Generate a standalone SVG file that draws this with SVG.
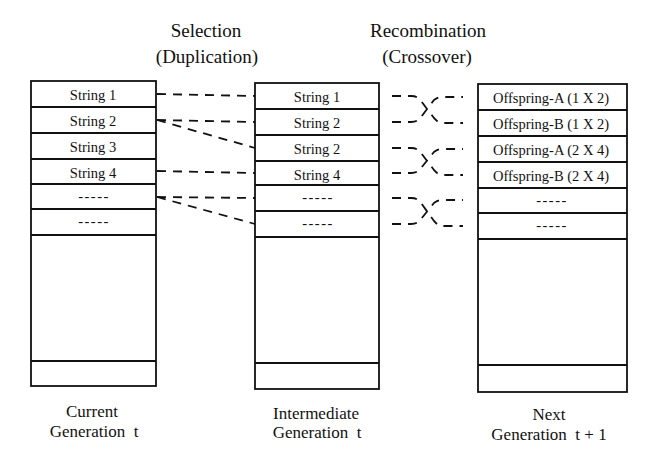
<svg xmlns="http://www.w3.org/2000/svg" width="645" height="462" viewBox="0 0 645 462">
<style>
.box{fill:#fff;stroke:#111;stroke-width:1.8}
.ln{stroke:#111;stroke-width:1.8;fill:none}
.dash{stroke:#111;stroke-width:1.8;fill:none;stroke-dasharray:9 7}
.t{font-family:"Liberation Serif","Times New Roman",serif;font-size:14.5px;fill:#111;text-anchor:middle}
.d{font-family:"Liberation Serif","Times New Roman",serif;font-size:14.5px;fill:#111;text-anchor:middle;letter-spacing:1.5px}
.h{font-family:"Liberation Serif","Times New Roman",serif;font-size:19px;fill:#111;text-anchor:middle}
.b{font-family:"Liberation Serif","Times New Roman",serif;font-size:17px;fill:#111;text-anchor:middle}
</style>
<rect width="645" height="462" fill="#fff"/>
<g id="title-selection">
<text class="h" x="206" y="37">Selection</text>
<text class="h" x="207" y="63">(Duplication)</text>
</g>
<g id="title-recombination">
<text class="h" x="428" y="37">Recombination</text>
<text class="h" x="427" y="63">(Crossover)</text>
</g>
<g id="current-generation">
<rect class="box" x="31" y="81" width="125" height="305"/>
<path class="ln" d="M31,107H156M31,133H156M31,159H156M31,184H156M31,209H156M31,235H156M31,361H156"/>
<text class="t" x="93" y="99.5">String 1</text>
<text class="t" x="93" y="125.5">String 2</text>
<text class="t" x="93" y="151.5">String 3</text>
<text class="t" x="93" y="177.5">String 4</text>
<text class="d" x="94" y="200.5">-----</text>
<text class="d" x="94" y="226">-----</text>
<text class="b" x="92" y="417">Current</text>
<text class="b" x="94" y="436.5" xml:space="preserve">Generation  t</text>
</g>
<g id="intermediate-generation">
<rect class="box" x="255" y="83" width="124" height="306"/>
<path class="ln" d="M255,109H379M255,135H379M255,161H379M255,185H379M255,211H379M255,237H379M255,363H379"/>
<text class="t" x="317" y="101.5">String 1</text>
<text class="t" x="317" y="127.5">String 2</text>
<text class="t" x="317" y="153.5">String 2</text>
<text class="t" x="317" y="179.5">String 4</text>
<text class="d" x="318" y="202">-----</text>
<text class="d" x="318" y="228">-----</text>
<text class="b" x="316" y="418.5">Intermediate</text>
<text class="b" x="317" y="438" xml:space="preserve">Generation  t</text>
</g>
<g id="next-generation">
<rect class="box" x="478" y="84" width="149" height="308"/>
<path class="ln" d="M478,110H627M478,136H627M478,162H627M478,188H627M478,213H627M478,239H627M478,365H627"/>
<text class="t" x="551" y="102.5">Offspring-A (1 X 2)</text>
<text class="t" x="551" y="128.5">Offspring-B (1 X 2)</text>
<text class="t" x="551" y="154.5">Offspring-A (2 X 4)</text>
<text class="t" x="551" y="180.5">Offspring-B (2 X 4)</text>
<text class="d" x="552" y="204.5">-----</text>
<text class="d" x="552" y="230">-----</text>
<text class="b" x="549" y="420">Next</text>
<text class="b" x="549" y="439.5" xml:space="preserve">Generation  t + 1</text>
</g>
<g id="connectors">
<path class="dash" d="M157,94L255,96"/>
<path class="dash" d="M157,120L255,122"/>
<path class="dash" d="M157,120L255,148"/>
<path class="dash" d="M157,171L255,173"/>
<path class="dash" d="M157,197L255,198"/>
<path class="dash" d="M157,197L255,224"/>
<path class="dash" d="M392,96H411C417,96 418,98 421,101L434,118C437,121 438,123 444,123H463"/>
<path class="dash" d="M392,122H411C417,122 418,120 421,117L434,100C437,98 438,97 444,97H463"/>
<path class="dash" d="M392,148H411C417,148 418,150 421,153L434,170C437,173 438,175 444,175H463"/>
<path class="dash" d="M392,173H411C417,173 418,171 421,168L434,152C437,150 438,149 444,149H463"/>
<path class="dash" d="M392,198H411C417,198 418,200 421,203L434,221C437,224 438,226 444,226H463"/>
<path class="dash" d="M392,224H411C417,224 418,222 421,219L434,203C437,201 438,200 444,200H463"/>
</g>
</svg>
